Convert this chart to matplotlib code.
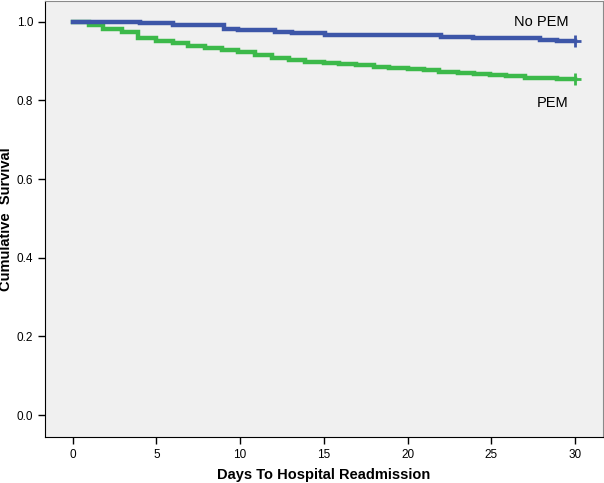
import matplotlib.pyplot as plt

# survival step data
nopem_days = [0, 4.0, 6.0, 9.05, 9.9, 12.1, 13.1, 15.1, 22.0, 23.9, 27.9, 28.9, 30]
nopem_surv = [1.0, 0.997, 0.993, 0.982, 0.978, 0.974, 0.971, 0.967, 0.962, 0.958, 0.955, 0.951, 0.951]

pem_days = [0, 1.0, 1.8, 2.95, 3.9, 4.95, 6.0, 6.9, 7.9, 8.95, 9.9, 10.9, 11.9, 12.9,
            13.9, 15.0, 15.9, 16.9, 18.0, 18.9, 20.0, 21.0, 21.9, 23.0, 24.0, 24.9,
            25.9, 27.0, 28.0, 28.9, 30]
pem_surv = [1.0, 0.992, 0.982, 0.973, 0.960, 0.951, 0.945, 0.939, 0.933, 0.928, 0.922,
            0.915, 0.907, 0.903, 0.899, 0.896, 0.892, 0.890, 0.886, 0.883, 0.879, 0.877,
            0.873, 0.871, 0.868, 0.864, 0.861, 0.858, 0.856, 0.854, 0.854]

xticks = [0, 5, 10, 15, 20, 25, 30]
yticks = [0.0, 0.2, 0.4, 0.6, 0.8, 1.0]

plt.rcParams['font.family'] = ['Liberation Sans', 'DejaVu Sans']

fig = plt.figure(figsize=(6.04, 4.83), dpi=100)
ax = fig.add_axes([0.0745, 0.095, 0.924, 0.903])
ax.set_facecolor('#f0f0f0')

blue = '#3d56a8'
green = '#3cb94a'

ax.step(pem_days, pem_surv, where='post', color=green, lw=3.2, solid_joinstyle='miter')
ax.step(nopem_days, nopem_surv, where='post', color=blue, lw=3.2, solid_joinstyle='miter')
ax.plot(pem_days[-1], pem_surv[-1], marker='+', color=green, ms=8, mew=2)
ax.plot(nopem_days[-1], nopem_surv[-1], marker='+', color=blue, ms=8, mew=2)

ax.text(29.6, 1.0, 'No PEM', ha='right', va='center', fontsize=10.5)
ax.text(29.6, 0.793, 'PEM', ha='right', va='center', fontsize=10.5)

ax.set_xlim(-1.65, 31.68)
ax.set_ylim(-0.056, 1.053)
ax.set_xticks(xticks)
ax.set_yticks(yticks)
ax.set_xticklabels([str(t) for t in xticks])
ax.set_yticklabels(['%.1f' % t for t in yticks])
ax.tick_params(direction='out', length=5, width=1, labelsize=8.5, colors='black')

for s in ['left', 'bottom']:
    ax.spines[s].set_color('black')
for s in ['top', 'right']:
    ax.spines[s].set_color('#8a8a8a')

ax.set_xlabel('Days To Hospital Readmission', fontsize=10.5, fontweight='bold', labelpad=5)
ax.set_ylabel('Cumulative  Survival', fontsize=10.5, fontweight='bold', labelpad=3)

fig.savefig('out.png', dpi=100)
